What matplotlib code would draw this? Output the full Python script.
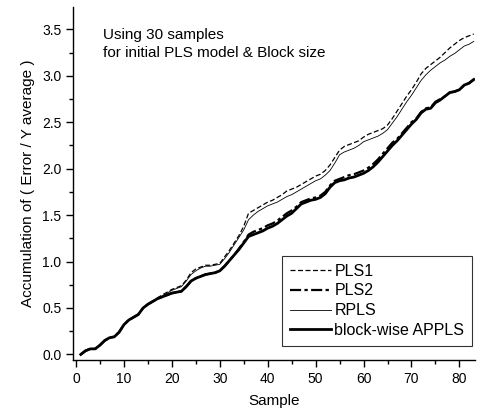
import matplotlib
matplotlib.use("Agg")
import matplotlib.pyplot as plt
from matplotlib.ticker import MultipleLocator
import numpy as np

plt.rcParams['font.family'] = ['Liberation Sans', 'DejaVu Sans']

samples = list(range(1, 84))

appls = [0.00, 0.04, 0.06, 0.06, 0.10, 0.15, 0.18, 0.19, 0.24, 0.32,
         0.37, 0.40, 0.43, 0.50, 0.54, 0.57, 0.60, 0.62, 0.64, 0.66,
         0.67, 0.68, 0.73, 0.79, 0.82, 0.84, 0.86, 0.87, 0.88, 0.90,
         0.95, 1.01, 1.07, 1.13, 1.20, 1.27, 1.29, 1.31, 1.33, 1.36,
         1.38, 1.41, 1.45, 1.49, 1.52, 1.57, 1.62, 1.64, 1.66, 1.67,
         1.69, 1.73, 1.80, 1.85, 1.87, 1.88, 1.90, 1.91, 1.93, 1.95,
         1.98, 2.02, 2.07, 2.13, 2.19, 2.25, 2.30, 2.36, 2.42, 2.48,
         2.53, 2.60, 2.64, 2.65, 2.71, 2.74, 2.78, 2.82, 2.83, 2.85,
         2.90, 2.92, 2.96]

pls2 = [0.00, 0.04, 0.06, 0.06, 0.10, 0.15, 0.18, 0.19, 0.24, 0.32,
        0.37, 0.40, 0.43, 0.50, 0.54, 0.57, 0.60, 0.62, 0.64, 0.66,
        0.67, 0.68, 0.73, 0.79, 0.82, 0.84, 0.86, 0.87, 0.88, 0.90,
        0.95, 1.01, 1.07, 1.14, 1.21, 1.29, 1.32, 1.34, 1.36, 1.39,
        1.41, 1.44, 1.48, 1.52, 1.55, 1.59, 1.64, 1.66, 1.68, 1.69,
        1.71, 1.75, 1.82, 1.87, 1.89, 1.91, 1.93, 1.94, 1.96, 1.98,
        2.01, 2.05, 2.10, 2.16, 2.22, 2.28, 2.32, 2.38, 2.44, 2.50,
        2.54, 2.61, 2.65, 2.66, 2.72, 2.75, 2.78, 2.82, 2.83, 2.85,
        2.90, 2.92, 2.96]

pls1 = [0.00, 0.04, 0.06, 0.06, 0.10, 0.15, 0.18, 0.19, 0.24, 0.32,
        0.37, 0.40, 0.43, 0.50, 0.54, 0.57, 0.61, 0.64, 0.67, 0.70,
        0.72, 0.74, 0.80, 0.88, 0.92, 0.94, 0.96, 0.96, 0.97, 0.98,
        1.05, 1.12, 1.20, 1.28, 1.38, 1.52, 1.55, 1.58, 1.61, 1.64,
        1.66, 1.69, 1.72, 1.76, 1.78, 1.80, 1.83, 1.86, 1.89, 1.92,
        1.94, 1.98, 2.04, 2.12, 2.20, 2.24, 2.26, 2.28, 2.30, 2.34,
        2.37, 2.39, 2.41, 2.43, 2.47, 2.54, 2.62, 2.70, 2.78, 2.85,
        2.93, 3.02, 3.08, 3.12, 3.16, 3.20, 3.25, 3.30, 3.34, 3.38,
        3.41, 3.43, 3.45]

rpls = [0.00, 0.04, 0.06, 0.06, 0.10, 0.15, 0.18, 0.19, 0.24, 0.32,
        0.37, 0.40, 0.43, 0.50, 0.54, 0.57, 0.60, 0.63, 0.66, 0.69,
        0.71, 0.73, 0.79, 0.86, 0.90, 0.93, 0.95, 0.95, 0.96, 0.97,
        1.03, 1.10, 1.18, 1.26, 1.34, 1.45, 1.50, 1.54, 1.57, 1.60,
        1.62, 1.64, 1.67, 1.70, 1.72, 1.75, 1.78, 1.81, 1.84, 1.87,
        1.89, 1.93, 1.98, 2.06, 2.15, 2.18, 2.20, 2.22, 2.25, 2.29,
        2.31, 2.33, 2.35, 2.38, 2.42, 2.49, 2.56, 2.64, 2.72, 2.79,
        2.87, 2.95, 3.01, 3.06, 3.10, 3.14, 3.17, 3.21, 3.24, 3.28,
        3.32, 3.34, 3.37]

labels = ["PLS1", "PLS2", "RPLS", "block-wise APPLS"]

fig = plt.figure(figsize=(4.81, 4.15), dpi=100)
ax = fig.add_axes([0.152, 0.1325, 0.836, 0.8505])

ax.plot(samples, pls1, color='black', lw=0.9, dashes=(4, 2), label=labels[0])
ax.plot(samples, pls2, color='black', lw=1.6, dashes=(5, 1.5, 1.5, 1.5), label=labels[1])
ax.plot(samples, rpls, color='black', lw=0.6, label=labels[2])
ax.plot(samples, appls, color='black', lw=2.0, label=labels[3])

ax.set_xlim(-0.6, 83.3)
ax.set_ylim(-0.06, 3.74)
ax.xaxis.set_major_locator(MultipleLocator(10))
ax.xaxis.set_minor_locator(MultipleLocator(5))
ax.yaxis.set_major_locator(MultipleLocator(0.5))
ax.yaxis.set_minor_locator(MultipleLocator(0.25))
ax.yaxis.set_major_formatter(matplotlib.ticker.FormatStrFormatter('%.1f'))

for s in ['top', 'right']:
    ax.spines[s].set_visible(False)
for s in ['left', 'bottom']:
    ax.spines[s].set_linewidth(1.0)

ax.tick_params(which='major', direction='out', length=5, width=1, labelsize=10)
ax.tick_params(which='minor', direction='out', length=3, width=1)

ax.set_xlabel("Sample", fontsize=11, labelpad=6)
ax.set_ylabel("Accumulation of ( Error / Y average )", fontsize=11, labelpad=5)

ax.text(0.075, 0.94, "Using 30 samples\nfor initial PLS model & Block size",
        transform=ax.transAxes, fontsize=11, va='top', ha='left', linespacing=1.3)

leg = ax.legend(loc='lower right', bbox_to_anchor=(0.993, 0.04), fontsize=11.5,
                frameon=True, fancybox=False, edgecolor='black', handlelength=2.6,
                handletextpad=0.2, borderpad=0.5, labelspacing=0.3, borderaxespad=0)
leg.get_frame().set_linewidth(0.8)

fig.savefig("out.png", dpi=100)
